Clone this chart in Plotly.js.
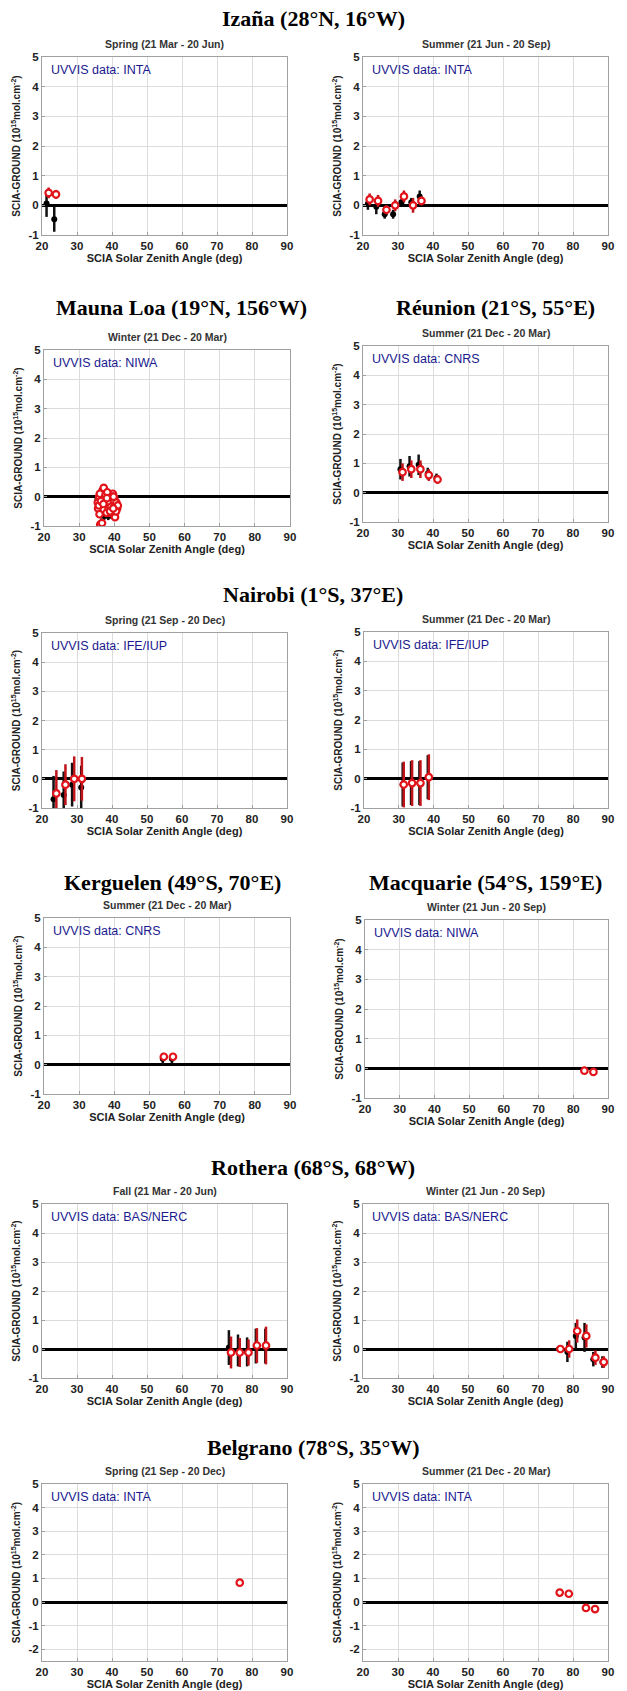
<!DOCTYPE html>
<html>
<head>
<meta charset="utf-8">
<script src="https://cdn.plot.ly/plotly-3.0.1.min.js"></script>
<style>html,body{margin:0;padding:0;background:#fff;}#chart{width:627px;height:1691px;}</style>
</head>
<body>
<div id="chart"></div>
<script>
// ---------- data ----------
const stationTitles = ["Izaña (28°N, 16°W)", "Mauna Loa (19°N, 156°W)", "Réunion (21°S, 55°E)", "Nairobi (1°S, 37°E)",
  "Kerguelen (49°S, 70°E)", "Macquarie (54°S, 159°E)", "Rothera (68°S, 68°W)", "Belgrano (78°S, 35°W)"];
const seasonLabels = ["Spring (21 Mar - 20 Jun)", "Summer (21 Jun - 20 Sep)", "Winter (21 Dec - 20 Mar)", "Summer (21 Dec - 20 Mar)",
  "Spring (21 Sep - 20 Dec)", "Summer (21 Dec - 20 Mar)", "Summer (21 Dec - 20 Mar)", "Winter (21 Jun - 20 Sep)",
  "Fall (21 Mar - 20 Jun)", "Winter (21 Jun - 20 Sep)", "Spring (21 Sep - 20 Dec)", "Summer (21 Dec - 20 Mar)"];
const dataSources = ["INTA", "INTA", "NIWA", "CNRS", "IFE/IUP", "IFE/IUP", "CNRS", "NIWA", "BAS/NERC", "BAS/NERC", "INTA", "INTA"];
const xTicks = [20, 30, 40, 50, 60, 70, 80, 90];

// Izaña spring
const izSpBlackX = [21.3, 23.5], izSpBlackY = [0.06, -0.47], izSpBlackErr = [0.45, 0.42];
const izSpRedX = [21.9, 24.0], izSpRedY = [0.42, 0.37], izSpRedErr = [0.18, 0.15];
// Izaña summer
const izSuBlackX = [21.4, 23.8, 26.2, 28.6, 31.0, 33.8, 36.2], izSuBlackY = [0.05, -0.05, -0.3, -0.3, 0.1, 0.1, 0.3], izSuBlackErr = [0.2, 0.25, 0.15, 0.15, 0.1, 0.15, 0.2];
const izSuRedX = [21.9, 24.3, 26.7, 29.2, 31.7, 34.3, 36.7], izSuRedY = [0.2, 0.15, -0.15, 0.0, 0.3, 0.0, 0.15], izSuRedErr = [0.2, 0.2, 0.15, 0.2, 0.2, 0.25, 0.15];
// Mauna Loa winter (dense cluster)
const mlBlackX = [35.2, 35.8, 36.3, 36.9, 37.4, 37.8, 38.3, 38.8, 39.2, 39.7, 40.1, 40.6, 36.0, 37.1, 38.0, 39.0, 40.0, 41.0, 35.5, 36.6, 37.6, 38.6, 39.5, 40.4];
const mlBlackY = [-0.1, -0.4, -0.6, -0.3, -0.55, -0.2, -0.65, -0.4, -0.5, -0.3, -0.6, -0.35, -0.5, -0.65, -0.1, -0.6, -0.45, -0.3, -0.05, -0.45, -0.6, -0.2, -0.55, -0.15];
const mlBlackErr = [0.15, 0.15, 0.15, 0.15, 0.15, 0.15, 0.15, 0.15, 0.15, 0.15, 0.15, 0.15, 0.15, 0.15, 0.15, 0.15, 0.15, 0.15, 0.15, 0.15, 0.15, 0.15, 0.15, 0.15];
const mlRedX = [35.3, 35.7, 36.1, 36.6, 37.0, 37.3, 37.7, 38.1, 38.5, 38.9, 39.3, 39.6, 40.0, 40.4, 40.8, 36.4, 37.2, 38.2, 39.1, 40.2, 36.0, 36.5,
  35.4, 35.9, 36.8, 37.5, 38.0, 38.7, 39.4, 39.9, 40.6, 41.0, 35.6, 36.2, 37.0, 37.9, 38.4, 39.0, 39.8, 40.5, 35.8, 36.9, 37.8, 38.8, 39.7];
const mlRedY = [-0.2, 0.0, -0.35, 0.2, 0.3, -0.15, 0.1, -0.3, -0.1, 0.05, -0.25, 0.1, -0.05, -0.35, -0.4, -0.5, -0.3, -0.45, -0.55, -0.7, -0.95, -0.9,
  -0.4, 0.1, -0.1, 0.05, 0.15, -0.2, 0.0, -0.15, -0.2, -0.3, -0.3, -0.15, -0.45, -0.05, -0.4, -0.35, 0.0, -0.5, -0.6, -0.25, -0.55, -0.5, -0.4];
const mlRedErr = [0.12, 0.12, 0.12, 0.12, 0.12, 0.12, 0.12, 0.12, 0.12, 0.12, 0.12, 0.12, 0.12, 0.12, 0.12, 0.12, 0.12, 0.12, 0.12, 0.12, 0.05, 0.05,
  0.12, 0.12, 0.12, 0.12, 0.12, 0.12, 0.12, 0.12, 0.12, 0.12, 0.12, 0.12, 0.12, 0.12, 0.12, 0.12, 0.12, 0.12, 0.12, 0.12, 0.12, 0.12, 0.12];
// Réunion summer
const reBlackX = [30.7, 33.3, 35.9, 38.5, 41.0], reBlackY = [0.8, 0.9, 0.95, 0.65, 0.5], reBlackErr = [0.35, 0.35, 0.35, 0.2, 0.15];
const reRedX = [31.3, 33.8, 36.4, 38.8, 41.3], reRedY = [0.7, 0.8, 0.8, 0.6, 0.45], reRedErr = [0.3, 0.3, 0.3, 0.2, 0.15];
// Nairobi spring
const naSpBlackX = [23.3, 26.2, 28.6, 31.2], naSpBlackY = [-0.7, -0.55, -0.2, -0.3], naSpBlackErr = [0.8, 0.8, 0.75, 0.75];
const naSpRedX = [24.1, 26.7, 29.2, 31.4], naSpRedY = [-0.5, -0.2, 0.0, 0.0], naSpRedErr = [0.8, 0.7, 0.77, 0.75];
// Nairobi summer
const naSuBlackX = [31.1, 33.5, 35.9, 38.3], naSuBlackY = [-0.2, -0.15, -0.15, 0.05], naSuBlackErr = [0.75, 0.75, 0.75, 0.75];
const naSuRedX = [31.4, 33.8, 36.2, 38.6], naSuRedY = [-0.2, -0.15, -0.15, 0.05], naSuRedErr = [0.78, 0.78, 0.78, 0.78];
// Kerguelen summer
const keBlackX = [53.8, 56.4], keBlackY = [0.2, 0.2], keBlackErr = [0.2, 0.15];
const keRedX = [54.1, 56.7], keRedY = [0.27, 0.27], keRedErr = [0.1, 0.1];
// Macquarie winter
const maBlackX = [83.0, 85.6], maBlackY = [-0.08, -0.12], maBlackErr = [0.05, 0.05];
const maRedX = [83.2, 85.8], maRedY = [-0.08, -0.12], maRedErr = [0.05, 0.05];
// Rothera fall
const roFaBlackX = [73.4, 76.0, 78.6, 81.1, 83.8], roFaBlackY = [0.05, -0.05, -0.1, 0.1, 0.1], roFaBlackErr = [0.6, 0.55, 0.5, 0.6, 0.6];
const roFaRedX = [74.0, 76.5, 79.0, 81.4, 84.0], roFaRedY = [-0.12, -0.12, -0.12, 0.12, 0.12], roFaRedErr = [0.55, 0.5, 0.45, 0.6, 0.65];
// Rothera winter
const roWiBlackX = [76.0, 78.4, 80.8, 83.3, 85.8, 88.4], roWiBlackY = [0.0, -0.1, 0.45, 0.4, -0.35, -0.45], roWiBlackErr = [0.1, 0.35, 0.45, 0.5, 0.25, 0.2];
const roWiRedX = [76.4, 78.9, 81.2, 83.8, 86.4, 88.8], roWiRedY = [0.0, 0.0, 0.62, 0.45, -0.3, -0.45], roWiRedErr = [0.1, 0.3, 0.4, 0.4, 0.25, 0.2];
// Belgrano spring
const beSpBlackX = [76.3], beSpBlackY = [0.8], beSpBlackErr = [0.05];
const beSpRedX = [76.5], beSpRedY = [0.82], beSpRedErr = [0.05];
// Belgrano summer
const beSuBlackX = [76.0, 78.6, 83.5, 86.1], beSuBlackY = [0.4, 0.35, -0.25, -0.3], beSuBlackErr = [0.05, 0.05, 0.05, 0.05];
const beSuRedX = [76.2, 78.8, 83.7, 86.3], beSuRedY = [0.4, 0.35, -0.25, -0.3], beSuRedErr = [0.05, 0.05, 0.05, 0.05];

const panelData = [
  [izSpBlackX, izSpBlackY, izSpBlackErr, izSpRedX, izSpRedY, izSpRedErr],
  [izSuBlackX, izSuBlackY, izSuBlackErr, izSuRedX, izSuRedY, izSuRedErr],
  [mlBlackX, mlBlackY, mlBlackErr, mlRedX, mlRedY, mlRedErr],
  [reBlackX, reBlackY, reBlackErr, reRedX, reRedY, reRedErr],
  [naSpBlackX, naSpBlackY, naSpBlackErr, naSpRedX, naSpRedY, naSpRedErr],
  [naSuBlackX, naSuBlackY, naSuBlackErr, naSuRedX, naSuRedY, naSuRedErr],
  [keBlackX, keBlackY, keBlackErr, keRedX, keRedY, keRedErr],
  [maBlackX, maBlackY, maBlackErr, maRedX, maRedY, maRedErr],
  [roFaBlackX, roFaBlackY, roFaBlackErr, roFaRedX, roFaRedY, roFaRedErr],
  [roWiBlackX, roWiBlackY, roWiBlackErr, roWiRedX, roWiRedY, roWiRedErr],
  [beSpBlackX, beSpBlackY, beSpBlackErr, beSpRedX, beSpRedY, beSpRedErr],
  [beSuBlackX, beSuBlackY, beSuBlackErr, beSuRedX, beSuRedY, beSuRedErr]
];
const yRanges = [[-1, 5], [-1, 5], [-1, 5], [-1, 5], [-1, 5], [-1, 5], [-1, 5], [-1, 5], [-1, 5], [-1, 5], [-2.5, 5], [-2.5, 5]];

// ---------- layout geometry (pixels) ----------
const W = 627, H = 1691;
const SANS = 'Liberation Sans, Arial, sans-serif';
const SERIF = 'Liberation Serif, Times New Roman, serif';
const boxes = [ // [left, right, top, bottom]
  [42, 287, 57, 235], [363, 608, 57, 235],
  [44, 290, 350, 526], [363, 608, 346, 522],
  [42, 287, 633, 808], [364, 608, 632, 808],
  [44, 290, 918, 1094], [365, 608, 920, 1098],
  [42, 287, 1204, 1378], [363, 608, 1204, 1378],
  [42, 287, 1484, 1661], [363, 608, 1484, 1661]
];
const titlePos = [[313, 18], [181, 308], [495, 308], [313, 595], [172, 882], [485, 882], [313, 1167], [313, 1447]];
const fx = p => p / W, fy = p => 1 - p / H;

const traces = [];
const layout = {
  width: W, height: H, margin: {l: 0, r: 0, t: 0, b: 0},
  paper_bgcolor: '#fff', plot_bgcolor: '#fff', showlegend: false,
  font: {family: SANS, size: 11, color: '#222'},
  annotations: [], shapes: []
};

boxes.forEach((b, i) => {
  const n = i === 0 ? '' : String(i + 1);
  const d = panelData[i];
  traces.push({
    x: d[0], y: d[1], xaxis: 'x' + n, yaxis: 'y' + n, type: 'scatter', mode: 'markers',
    marker: {color: '#000', size: 6, symbol: 'circle'},
    error_y: {type: 'data', array: d[2], visible: true, color: '#111', thickness: 2.5, width: 0},
    hoverinfo: 'skip'
  });
  traces.push({
    x: d[3], y: d[4], xaxis: 'x' + n, yaxis: 'y' + n, type: 'scatter', mode: 'markers',
    marker: {color: '#fff', size: 6.5, symbol: 'circle', line: {color: '#e0141a', width: 2.2}},
    error_y: {type: 'data', array: d[5], visible: true, color: '#c0141a', thickness: 2.5, width: 0},
    hoverinfo: 'skip'
  });
  const axCommon = {
    showgrid: true, gridcolor: '#dcdcdc', gridwidth: 1,
    showline: true, linecolor: '#a0a0a0', linewidth: 1, mirror: true,
    ticks: 'inside', ticklen: 3, tickcolor: '#a0a0a0',
    tickfont: {family: SANS, size: 11.5, color: '#222', weight: 'bold'}, fixedrange: true
  };
  layout['xaxis' + n] = Object.assign({}, axCommon, {
    domain: [fx(b[0]), fx(b[1])], anchor: 'y' + n, range: [20, 90],
    tickvals: xTicks, ticktext: xTicks.map(String), zeroline: false,
    title: {text: 'SCIA Solar Zenith Angle (deg)', font: {family: SANS, size: 11, color: '#222', weight: 'bold'}, standoff: 3}
  });
  const yr = yRanges[i];
  const yt = [];
  for (let v = Math.ceil(yr[0]); v <= yr[1]; v++) yt.push(v);
  layout['yaxis' + n] = Object.assign({}, axCommon, {
    domain: [fy(b[3]), fy(b[2])], anchor: 'x' + n, range: yr,
    tickvals: yt, ticktext: yt.map(String),
    zeroline: true, zerolinecolor: '#000', zerolinewidth: 3,
    title: {text: 'SCIA-GROUND (10<sup>15</sup>mol.cm<sup>-2</sup>)', font: {family: SANS, size: 10, color: '#222', weight: 'bold'}, standoff: 5}
  });
  // season subtitle
  layout.annotations.push({
    text: seasonLabels[i], xref: 'paper', yref: 'paper',
    x: fx((b[0] + b[1]) / 2), y: fy(b[2] - 13), xanchor: 'center', yanchor: 'middle',
    showarrow: false, font: {family: SANS, size: 10.5, color: '#333', weight: 'bold'}
  });
  // data source label
  layout.annotations.push({
    text: 'UVVIS data: ' + dataSources[i], xref: 'paper', yref: 'paper',
    x: fx(b[0] + 7), y: fy(b[2] + 13), xanchor: 'left', yanchor: 'middle',
    showarrow: false, font: {family: SANS, size: 12.5, color: '#1a1a8f'}
  });
});

stationTitles.forEach((t, k) => {
  layout.annotations.push({
    text: t, xref: 'paper', yref: 'paper',
    x: fx(titlePos[k][0]), y: fy(titlePos[k][1]), xanchor: 'center', yanchor: 'middle',
    showarrow: false, font: {family: SERIF, size: 22, color: '#000', weight: 'bold'}
  });
});

Plotly.newPlot('chart', traces, layout, {displayModeBar: false, staticPlot: true});
</script>
</body>
</html>
